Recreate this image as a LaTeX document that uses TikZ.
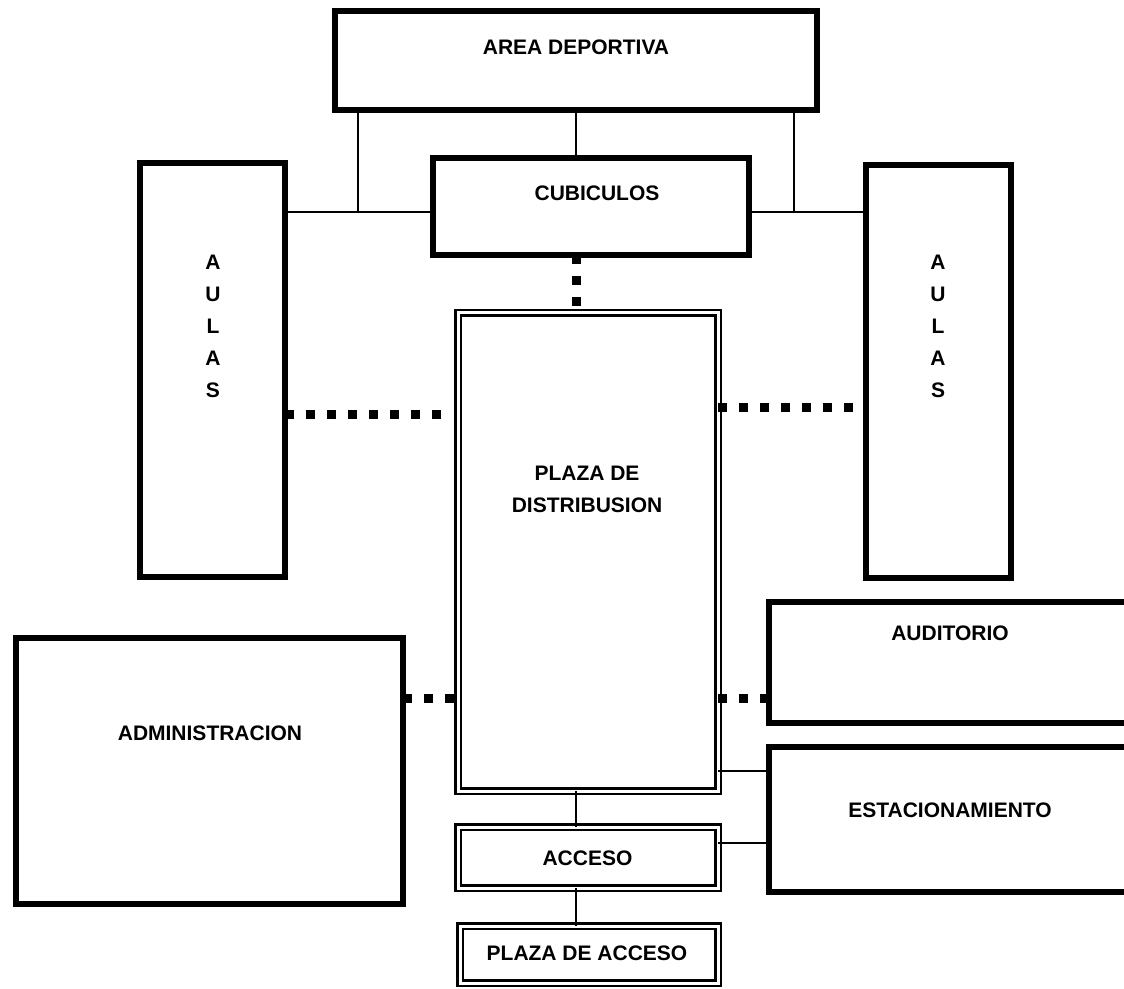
\documentclass[tikz,border=0pt]{standalone}
\usepackage{fontspec}
\setmainfont{Liberation Sans}
\usetikzlibrary{calc}

\begin{document}
\begin{tikzpicture}[x=0.5pt, y=-0.5pt,
    bloque/.style={draw, line width=3pt, inner sep=0pt, outer sep=0pt},
    doble/.style={draw, line width=1.1pt, double=white, double distance=1.5pt, inner sep=0pt, outer sep=0pt},
    rotulo/.style={font=\bfseries\fontsize{10.5}{16}\selectfont, align=center, inner sep=0pt},
    enlace/.style={line width=0.8pt},
    puntos/.style={line width=4.5pt, dash pattern=on 4.5pt off 6pt}]
    \clip (0,0) rectangle (1124,989);
    \coordinate (eje) at (576,0);

    \node[bloque, minimum width=241pt, minimum height=49.5pt] (area) at (576,60.5) {};
    \node[bloque, minimum width=158pt, minimum height=48.5pt] (cub) at (591,206.5) {};
    \node[bloque, minimum width=72.5pt, minimum height=207pt] (aulasI) at (212.5,370) {};
    \node[bloque, minimum width=72.5pt, minimum height=206.5pt] (aulasD) at (938.5,371.5) {};
    \node[doble, minimum width=130pt, minimum height=239pt] (plaza) at (588,552) {};
    \node[bloque, minimum width=193.5pt, minimum height=133pt] (admin) at (209.5,771) {};
    \node[bloque, minimum width=183pt, minimum height=60.5pt] (audit) at (952,662.5) {};
    \node[bloque, minimum width=183pt, minimum height=72.5pt] (estac) at (952,819.5) {};
    \node[doble, minimum width=130pt, minimum height=30.5pt] (acceso) at (588,857.5) {};
    \node[doble, minimum width=129pt, minimum height=28.5pt] (plazacc) at (589,954.5) {};

    \node[rotulo] (tArea) at (576,47) {AREA DEPORTIVA};
    \node[rotulo] (tCub) at (597,193) {CUBICULOS};
    \foreach \x/\n in {213/I, 938/D}
        \node[rotulo] (tAulas\n) at (\x,326) {A\\U\\L\\A\\S};
    \node[rotulo] (tPlaza) at (587,489) {PLAZA DE\\DISTRIBUSION};
    \node[rotulo] (tAdmin) at (210,733) {ADMINISTRACION};
    \node[rotulo] (tAudit) at (950,633) {AUDITORIO};
    \node[rotulo] (tEstac) at (950,810) {ESTACIONAMIENTO};
    \node[rotulo] (tAcceso) at (587.5,858) {ACCESO};
    \node[rotulo] (tPlazacc) at (587,953) {PLAZA DE ACCESO};

    \coordinate (ramaI) at (358,212);
    \coordinate (ramaD) at (794,212);
    \draw[enlace] (area.south -| eje) -- (cub.north -| eje);
    \draw[enlace] (aulasI.east |- ramaI) -- (cub.west |- ramaI);
    \draw[enlace] (area.south -| ramaI) -- (ramaI);
    \draw[enlace] (cub.east |- ramaD) -- (aulasD.west |- ramaD);
    \draw[enlace] (area.south -| ramaD) -- (ramaD);

    \draw[puntos] (aulasI.east |- 0,415) -- (442,415);
    \draw[puntos] (plaza.east |- 0,408) -- (aulasD.west |- 0,408);
    \draw[puntos] (cub.south -| eje) -- (plaza.north -| eje);
    \draw[puntos] (admin.east |- 0,698) -- (plaza.west |- 0,698);
    \draw[puntos] (plaza.east |- 0,698) -- (audit.west |- 0,698);

    \draw[enlace] (plaza.east |- 0,771) -- (estac.west |- 0,771);
    \draw[enlace] (acceso.east |- 0,843) -- (estac.west |- 0,843);
    \draw[enlace] (plaza.south -| eje) -- (acceso.north -| eje);
    \draw[enlace] (acceso.south -| eje) -- (plazacc.north -| eje);
\end{tikzpicture}
\end{document}
